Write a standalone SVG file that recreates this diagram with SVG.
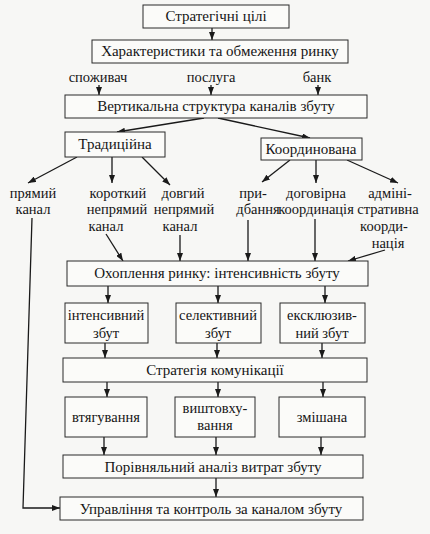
<svg xmlns="http://www.w3.org/2000/svg" width="430" height="534" viewBox="0 0 430 534" font-family="'Liberation Serif','Times New Roman',serif">
<defs>
<marker id="ah" viewBox="0 0 8 6" refX="8" refY="3" markerWidth="8" markerHeight="6" markerUnits="userSpaceOnUse" orient="auto">
<path d="M0,0 L8,3 L0,6 z" fill="#1a1a1a"/>
</marker>
<style>
.b{fill:#fbfbf9;stroke:#2a2a2a;stroke-width:1}
.t{font-family:"Liberation Serif","Times New Roman",serif;font-size:15px;fill:#151515;text-anchor:middle}
.s{font-family:"Liberation Serif","Times New Roman",serif;font-size:14.5px;fill:#151515;text-anchor:middle}
.c{fill:none;stroke:#1a1a1a;stroke-width:1.3;marker-end:url(#ah)}
</style>
</defs>
<rect x="0" y="0" width="430" height="534" fill="#f7f7f5"/>
<g id="connectors">
<path class="c" d="M212 28 L212 40"/>
<path class="c" d="M99 85 L99 95"/>
<path class="c" d="M211 85 L211 95"/>
<path class="c" d="M318 85 L318 95"/>
<path class="c" d="M204 118 L117 132"/>
<path class="c" d="M218 118 L310 138"/>
<path class="c" d="M77 157 L28 183"/>
<path class="c" d="M112 157 L112 183"/>
<path class="c" d="M142 157 L170 185"/>
<path class="c" d="M290 160 L262 182"/>
<path class="c" d="M316 160 L316 183"/>
<path class="c" d="M347 160 L398 183"/>
<path class="c" d="M106 234 L123 261"/>
<path class="c" d="M180 235 L180 261"/>
<path class="c" d="M248 220 L248 261"/>
<path class="c" d="M315 219 L315 261"/>
<path class="c" d="M385 250 L348 261"/>
<path class="c" d="M108 286 L108 303"/>
<path class="c" d="M218 286 L218 303"/>
<path class="c" d="M325 286 L325 303"/>
<path class="c" d="M105 343 L105 358"/>
<path class="c" d="M217 343 L217 358"/>
<path class="c" d="M322 343 L322 358"/>
<path class="c" d="M107 382 L107 397"/>
<path class="c" d="M218 382 L218 397"/>
<path class="c" d="M323 382 L323 397"/>
<path class="c" d="M104 437 L104 455"/>
<path class="c" d="M216 437 L216 455"/>
<path class="c" d="M321 437 L321 455"/>
<path class="c" d="M216 478 L216 497"/>
<path class="c" d="M32 218 L23 508 L60 508"/>
</g>
<g id="n-strategic-goals"><rect class="b" x="143" y="5" width="146" height="23"/><text class="t" x="216" y="21">Стратегічні цілі</text></g>
<g id="n-market"><rect class="b" x="92" y="40" width="256" height="23"/><text class="t" x="220" y="56">Характеристики та обмеження ринку</text></g>
<g id="n-consumer"><text class="s" x="98" y="82">споживач</text></g>
<g id="n-service"><text class="s" x="211" y="82">послуга</text></g>
<g id="n-bank"><text class="s" x="317" y="82">банк</text></g>
<g id="n-vertical"><rect class="b" x="65" y="95" width="302" height="23"/><text class="t" x="216" y="111">Вертикальна структура каналів збуту</text></g>
<g id="n-traditional"><rect class="b" x="65" y="132" width="100" height="25"/><text class="t" x="115" y="149">Традиційна</text></g>
<g id="n-coordinated"><rect class="b" x="261" y="138" width="101" height="22"/><text class="t" x="311" y="154">Координована</text></g>
<g id="n-direct"><text class="s" x="33" y="198">прямий</text><text class="s" x="33" y="214">канал</text></g>
<g id="n-short"><text class="s" x="118" y="198">короткий</text><text class="s" x="117" y="214">непрямий</text><text class="s" x="106" y="231">канал</text></g>
<g id="n-long"><text class="s" x="183" y="198">довгий</text><text class="s" x="184" y="214">непрямий</text><text class="s" x="180" y="231">канал</text></g>
<g id="n-acquisition"><text class="s" x="253" y="198">при-</text><text class="s" x="258" y="214">дбання</text></g>
<g id="n-contract"><text class="s" x="316" y="198">договірна</text><text class="s" x="316" y="214">координація</text></g>
<g id="n-admin"><text class="s" x="390" y="198">адміні-</text><text class="s" x="388" y="214">стративна</text><text class="s" x="384" y="231">коорди-</text><text class="s" x="388" y="248">нація</text></g>
<g id="n-coverage"><rect class="b" x="67" y="261" width="301" height="25"/><text class="t" x="217" y="278">Охоплення ринку: інтенсивність збуту</text></g>
<g id="n-intensive"><rect class="b" x="65" y="303" width="83" height="40"/><text class="s" x="106" y="320">інтенсивний</text><text class="s" x="106" y="338">збут</text></g>
<g id="n-selective"><rect class="b" x="176" y="303" width="85" height="40"/><text class="s" x="218" y="320">селективний</text><text class="s" x="218" y="338">збут</text></g>
<g id="n-exclusive"><rect class="b" x="280" y="303" width="85" height="40"/><text class="s" x="322" y="320">ексклюзив-</text><text class="s" x="322" y="338">ний збут</text></g>
<g id="n-communication"><rect class="b" x="63" y="358" width="304" height="24"/><text class="t" x="215" y="375">Стратегія комунікації</text></g>
<g id="n-pull"><rect class="b" x="65" y="397" width="82" height="40"/><text class="s" x="106" y="422">втягування</text></g>
<g id="n-push"><rect class="b" x="175" y="397" width="80" height="40"/><text class="s" x="215" y="413">виштовху-</text><text class="s" x="215" y="430">вання</text></g>
<g id="n-mixed"><rect class="b" x="279" y="397" width="86" height="40"/><text class="s" x="322" y="422">змішана</text></g>
<g id="n-cost"><rect class="b" x="63" y="455" width="300" height="23"/><text class="t" x="213" y="472">Порівняльний аналіз витрат збуту</text></g>
<g id="n-control"><rect class="b" x="60" y="497" width="303" height="23"/><text class="t" x="211" y="514">Управління та контроль за каналом збуту</text></g>
</svg>
